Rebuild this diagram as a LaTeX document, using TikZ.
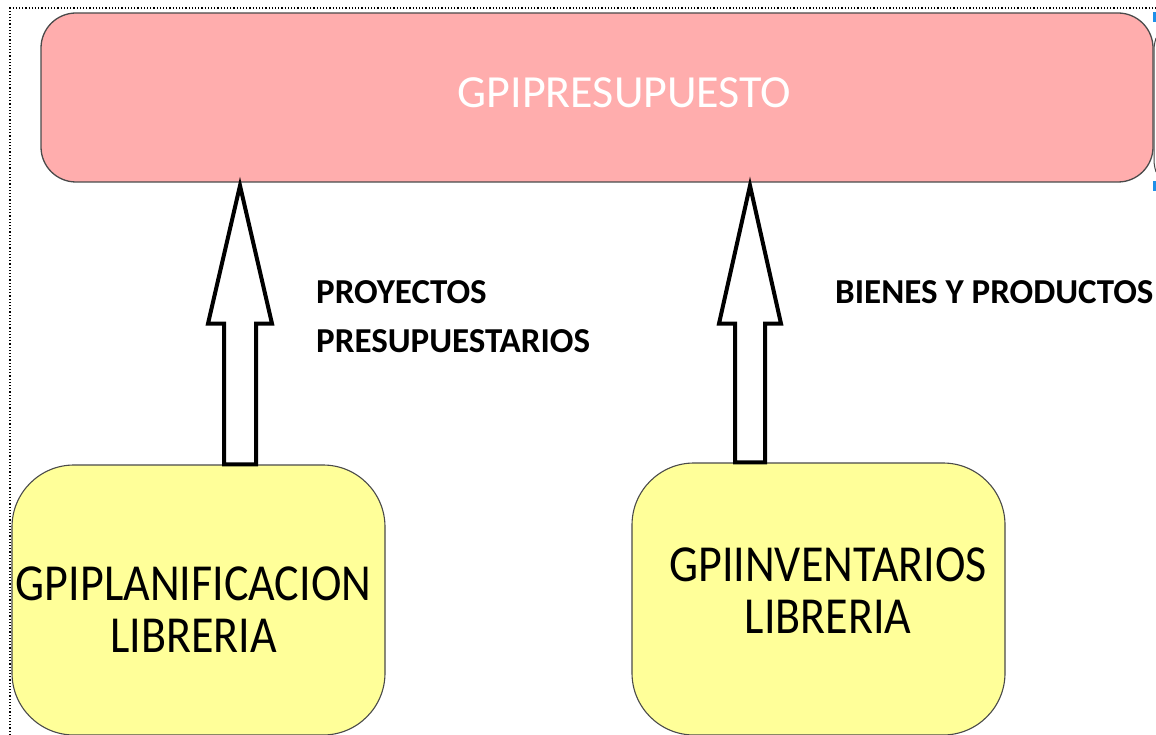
\documentclass[tikz,border=0pt]{standalone}
\usepackage{fontspec}
\setmainfont{Carlito}
\usetikzlibrary{calc}
\definecolor{pinkfill}{HTML}{FFADAD}
\definecolor{yellowfill}{HTML}{FFFF99}
\definecolor{boxline}{HTML}{4A4A4A}
\definecolor{handle}{HTML}{1E8FE8}
\newcommand{\tallline}[1]{\scalebox{1}[1.13]{#1}}
\tikzset{
  presubox/.style={draw=boxline, line width=1.3pt, fill=pinkfill, rounded corners=35pt,
    minimum width=1112pt, minimum height=169pt, inner sep=0pt},
  libbox/.style={draw=boxline, line width=1.1pt, fill=yellowfill, rounded corners=62pt,
    minimum width=373pt, inner sep=0pt},
  bigarrow/.style={draw=black, line width=4pt, fill=white, line join=miter},
  libtext/.style={font=\fontsize{46}{52}\selectfont, align=center, inner sep=0pt},
  flowtext/.style={font=\fontsize{35}{49}\selectfont\bfseries, align=left, inner sep=0pt},
}
\begin{document}
\begin{tikzpicture}[x=1pt, y=-1pt]
\useasboundingbox (0,0) rectangle (1156,735);
% dotted frame
\draw[dotted, line width=1.2pt] (10,735) -- (10,8) -- (1156,8);
% selection handles / neighbour edge at right border
\fill[handle] (1152.5,12) rectangle (1156,22);
\fill[handle] (1152.5,181) rectangle (1156,191);
\draw[boxline, line width=1pt] (1156,38) .. controls (1154,45) .. (1154,60) -- (1154,150) .. controls (1154,165) .. (1156,172);
% boxes
\node[presubox] (presu) at (597,97.5) {};
\node[font=\fontsize{46}{52}\selectfont, text=white, anchor=base, inner sep=0pt] (presutxt) at (624.5,108) {GPIPRESUPUESTO};
\node[libbox, minimum height=270pt] (plan) at (198.5,600) {};
\node[libbox, minimum height=272pt] (inv) at (818.5,599) {};
\node[libtext, anchor=base] (plantxt) at (193.5,652) {\tallline{GPIPLANIFICACION}\\\tallline{LIBRERIA}};
\node[libtext, anchor=base] (invtxt) at (828,633) {\tallline{GPIINVENTARIOS}\\\tallline{LIBRERIA}};
% arrows
\coordinate (a1) at (plan.north -| 240,0);
\coordinate (a2) at (inv.north -| 750,0);
\draw[bigarrow] (a1) ++(-16,0) -- ($(a1 |- presu.south)+(-16,141)$) -- ++(-16,0)
  -- ($(a1 |- presu.south)+(0,3)$) -- ($(a1 |- presu.south)+(32,141)$) -- ++(-16,0)
  -- ($(a1)+(16,0)$) -- cycle;
\draw[bigarrow] (a2) ++(-15,0) -- ($(a2 |- presu.south)+(-15,141)$) -- ++(-16,0)
  -- ($(a2 |- presu.south)+(0,3)$) -- ($(a2 |- presu.south)+(31,141)$) -- ++(-16,0)
  -- ($(a2)+(15,0)$) -- cycle;
% flow labels
\node[flowtext, anchor=base west] (lab1) at (316,352) {PROYECTOS\\PRESUPUESTARIOS};
\node[flowtext, anchor=base west] (lab2) at (835,303) {BIENES Y PRODUCTOS};
\end{tikzpicture}
\end{document}
